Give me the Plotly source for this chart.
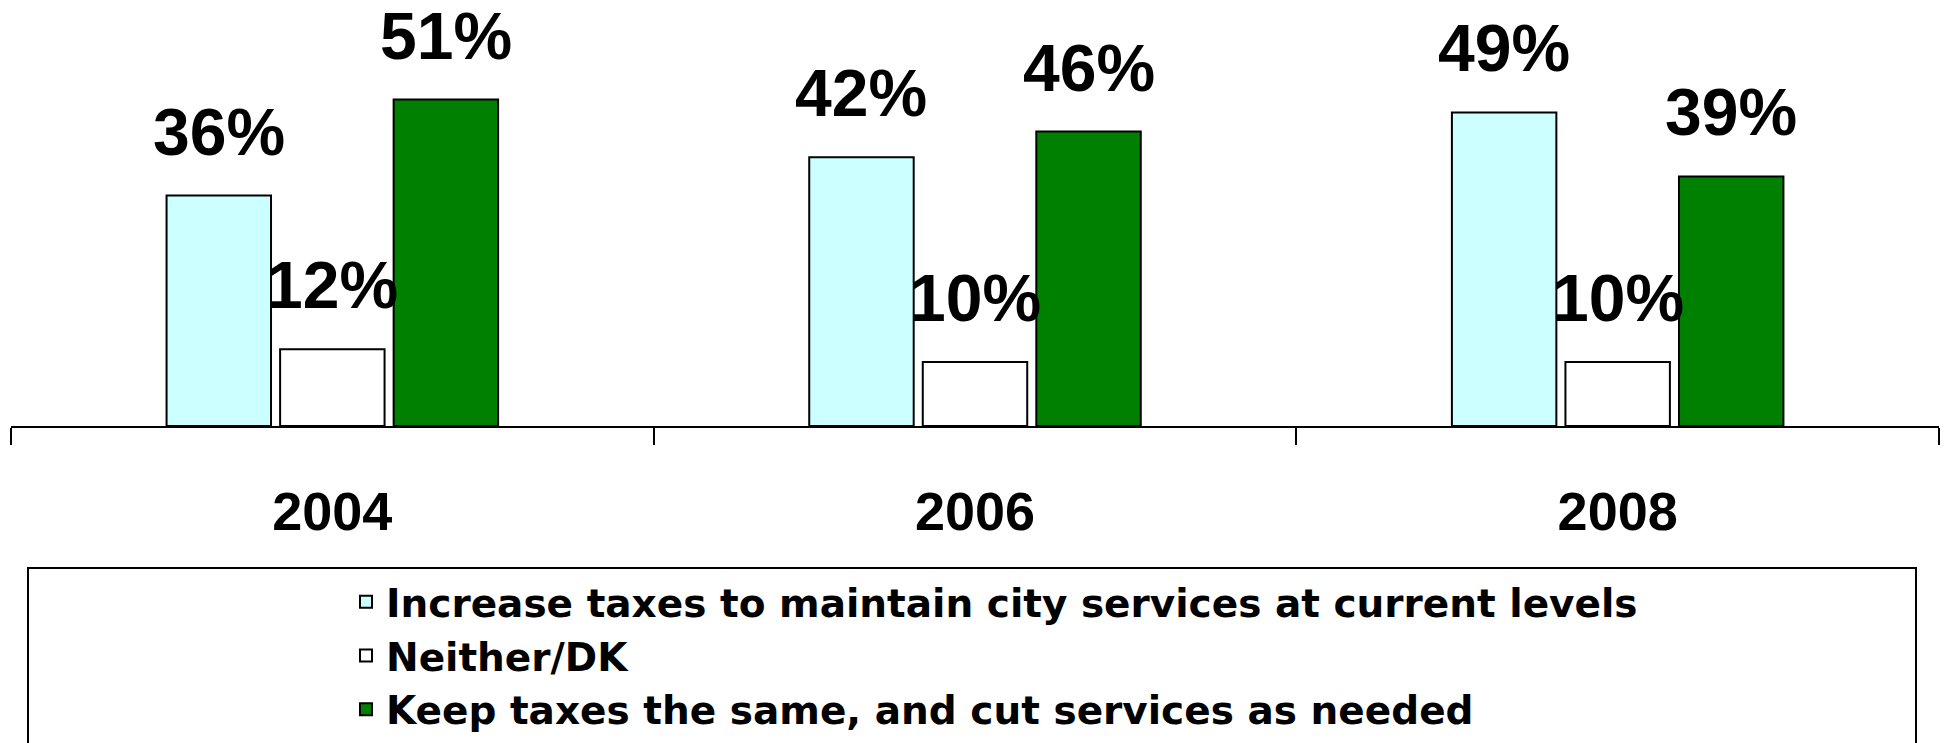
import plotly.graph_objects as go

# Survey results by year
years = ["2004", "2006", "2008"]
series_names = [
    "Increase taxes to maintain city services at current levels",
    "Neither/DK",
    "Keep taxes the same, and cut services as needed",
]
increase_taxes = [36, 42, 49]
neither_dk = [12, 10, 10]
keep_taxes = [51, 46, 39]
series_values = [increase_taxes, neither_dk, keep_taxes]
series_colors = ["#CCFFFF", "#FFFFFF", "#008000"]

W, H = 1949, 743
ML, MR, MT, MB = 11, 10, 0, 317
plot_h = H - MT - MB
px_per_unit = 6.40
y_max = plot_h / px_per_unit

bargap = 0.47
bargroupgap = 0.08
FONT = "Arial, Liberation Sans, sans-serif"
LEGEND_FONT = "DejaVu Sans, Arial, sans-serif"

fig = go.Figure()
for name, vals, col in zip(series_names, series_values, series_colors):
    fig.add_trace(go.Bar(
        x=years, y=vals, name=name,
        marker=dict(color=col, line=dict(color="black", width=2)),
    ))

# value labels above each bar
slot = (1 - bargap) / len(series_values)
for k, vals in enumerate(series_values):
    for i, v in enumerate(vals):
        fig.add_annotation(
            x=i + (k - 1) * slot, y=v, xref="x", yref="y",
            text=f"{v}%", showarrow=False, yanchor="bottom",
            yshift=25,
            font=dict(family=FONT, size=66, color="black", weight="bold"),
        )

# frame around the legend
plot_w = W - ML - MR
fig.add_shape(
    type="rect", xref="paper", yref="paper",
    x0=(28 - ML) / plot_w, x1=(1916 - ML) / plot_w,
    y0=(plot_h - 568) / plot_h, y1=(plot_h - 780) / plot_h,
    line=dict(color="black", width=2), fillcolor="rgba(0,0,0,0)",
)

fig.update_layout(
    width=W, height=H,
    margin=dict(l=ML, r=MR, t=MT, b=MB, pad=0, autoexpand=False),
    paper_bgcolor="white", plot_bgcolor="white",
    barmode="group", bargap=bargap, bargroupgap=bargroupgap,
    showlegend=True,
    legend=dict(
        x=(346 - ML) / plot_w, xanchor="left",
        y=(plot_h - 570) / plot_h, yanchor="top",
        font=dict(family=LEGEND_FONT, size=39, color="black", weight="bold"),
        bgcolor="rgba(0,0,0,0)", borderwidth=0,
        itemsizing="constant",
    ),
    xaxis=dict(
        type="category", showline=True, linecolor="black", linewidth=2,
        ticks="outside", tickson="boundaries", ticklen=17, tickwidth=2,
        tickcolor="black", showgrid=False, zeroline=False,
        tickfont=dict(family=FONT, size=54, color="black", weight="bold"),
        ticklabelstandoff=37,
    ),
    yaxis=dict(range=[0, y_max], visible=False, showgrid=False),
)

fig.write_html("out.html")
